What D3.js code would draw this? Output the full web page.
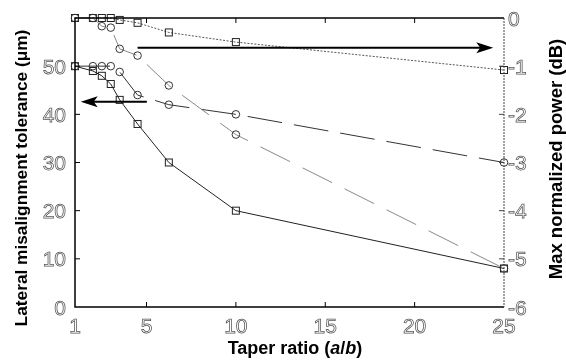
<!DOCTYPE html>
<html>
<head>
<meta charset="utf-8">
<script src="https://cdn.jsdelivr.net/npm/d3@7/dist/d3.min.js"></script>
<style>
  body { margin: 0; background: #fff; }
  svg { display: block; font-family: "Liberation Sans", Arial, sans-serif; will-change: transform; }
  .tick-label { fill: #fff; stroke: #555; stroke-width: 0.75; font-size: 21px; }
  .title { font-weight: bold; fill: #000; }
</style>
</head>
<body>
<svg id="plot" width="566" height="362"></svg>
<script>

// Data.

const taper = [1, 2, 2.5, 3, 3.5, 4.5, 6.25, 10, 25];

// Left axis: lateral misalignment tolerance (um).
const tolSolid  = [50, 49, 48, 46.3, 43, 38, 30, 20, 8];
const tolDashed = [50, 50, 50, 50, 48.8, 44, 42, 40, 30];

// Right axis: max normalized power (dB).
const powDotted  = [0, 0, 0, 0, -0.04, -0.1, -0.3, -0.5, -1.08];
const powDashDot = [0, 0, -0.17, -0.2, -0.64, -0.78, -1.4, -2.42, -5.2];

const xTicks = [1, 5, 10, 15, 20, 25];
const yLeftTicks = [0, 10, 20, 30, 40, 50];
const yRightTicks = [0, -1, -2, -3, -4, -5, -6];

// Arrows: [from x, to x, value, axis].
const arrows = [
    { from: 5.02, to: 1.32, value: 42.6, axis: "left" },
    { from: 4.5, to: 24.4, value: -0.62, axis: "right" },
];

// Plot box.

const margin = { T: 18, B: 307, L: 75, R: 504 };

const svg = d3.select("#plot");

const xScale = d3.scaleLinear().domain([1, 25]).range([margin.L, margin.R]);
const yLeft = d3.scaleLinear().domain([0, 60]).range([margin.B, margin.T]);
const yRight = d3.scaleLinear().domain([-6, 0]).range([margin.B, margin.T]);

//----------------------------------------------------------------------------//
//                                   SERIES                                   //
//----------------------------------------------------------------------------//

const series = [
    { vals: tolSolid,   y: yLeft,  stroke: "#222", dash: null,    marker: "square" },
    { vals: tolDashed,  y: yLeft,  stroke: "#333", dash: "35,12", marker: "circle" },
    { vals: powDotted,  y: yRight, stroke: "#555", dash: "2,1.5", marker: "square" },
    { vals: powDashDot, y: yRight, stroke: "#888", dash: "33,14", marker: "circle" },
];

series.forEach(s => {
    const pts = taper.map((t, i) => [t, s.vals[i]]);
    const line = d3.line().x(d => xScale(d[0])).y(d => s.y(d[1]));

    svg.append("path")
        .attr("d", line(pts))
        .attr("fill", "none")
        .attr("stroke", s.stroke)
        .attr("stroke-width", 1)
        .attr("stroke-dasharray", s.dash);

    const g = svg.append("g");
    if (s.marker === "square") {
        g.selectAll("rect")
            .data(pts)
            .join("rect")
                .attr("x", d => xScale(d[0]) - 3.5)
                .attr("y", d => s.y(d[1]) - 3.5)
                .attr("width", 7)
                .attr("height", 7)
                .attr("fill", "none")
                .attr("stroke", "#222")
                .attr("stroke-width", 1);
    } else {
        g.selectAll("circle")
            .data(pts)
            .join("circle")
                .attr("cx", d => xScale(d[0]))
                .attr("cy", d => s.y(d[1]))
                .attr("r", 3.8)
                .attr("fill", "none")
                .attr("stroke", "#333")
                .attr("stroke-width", 1);
    }
});

// Arrows.

arrows.forEach(a => {
    const y = (a.axis === "left" ? yLeft : yRight)(a.value);
    const x0 = xScale(a.from), x1 = xScale(a.to);
    const dir = x1 > x0 ? 1 : -1;
    svg.append("line")
        .attr("x1", x0).attr("x2", x1 - dir * 10)
        .attr("y1", y).attr("y2", y)
        .attr("stroke", "#000")
        .attr("stroke-width", 2);
    svg.append("path")
        .attr("d", `M${x1},${y} L${x1 - dir * 17},${y - 5.5} L${x1 - dir * 13},${y} L${x1 - dir * 17},${y + 5.5} Z`)
        .attr("fill", "#000");
});

//----------------------------------------------------------------------------//
//                                    AXES                                    //
//----------------------------------------------------------------------------//

// Box.
svg.append("path")
    .attr("d", `M${margin.R},${margin.T} H${margin.L} V${margin.B} H${margin.R}`)
    .attr("fill", "none")
    .attr("stroke", "#000")
    .attr("stroke-width", 1.5);
svg.append("line")
    .attr("x1", margin.R).attr("x2", margin.R)
    .attr("y1", margin.T).attr("y2", margin.B)
    .attr("stroke", "#444")
    .attr("stroke-width", 1)
    .attr("stroke-dasharray", "2,1");

// Inward ticks.
const tickLen = 5;
xTicks.slice(1, -1).forEach(t => {
    svg.append("line")
        .attr("x1", xScale(t)).attr("x2", xScale(t))
        .attr("y1", margin.B).attr("y2", margin.B - tickLen)
        .attr("stroke", "#000");
    svg.append("line")
        .attr("x1", xScale(t)).attr("x2", xScale(t))
        .attr("y1", margin.T).attr("y2", margin.T + tickLen)
        .attr("stroke", "#000");
});
yLeftTicks.slice(1).forEach(t => {
    svg.append("line")
        .attr("x1", margin.L).attr("x2", margin.L + tickLen)
        .attr("y1", yLeft(t)).attr("y2", yLeft(t))
        .attr("stroke", "#000");
});
yRightTicks.slice(1, -1).forEach(t => {
    svg.append("line")
        .attr("x1", margin.R).attr("x2", margin.R - tickLen)
        .attr("y1", yRight(t)).attr("y2", yRight(t))
        .attr("stroke", "#444");
});

// Tick labels.
svg.selectAll(".xl")
    .data(xTicks)
    .join("text")
        .attr("class", "tick-label")
        .attr("x", d => xScale(d))
        .attr("y", 333)
        .attr("text-anchor", "middle")
        .text(d => d);

svg.selectAll(".yl")
    .data(yLeftTicks)
    .join("text")
        .attr("class", "tick-label")
        .attr("x", 66)
        .attr("y", d => yLeft(d))
        .attr("dy", "0.36em")
        .attr("text-anchor", "end")
        .text(d => d);

svg.selectAll(".yr")
    .data(yRightTicks)
    .join("text")
        .attr("class", "tick-label")
        .attr("x", 508)
        .attr("y", d => yRight(d))
        .attr("dy", "0.36em")
        .attr("text-anchor", "start")
        .text(d => d);

// Axis titles.
const xTitle = svg.append("text")
    .attr("class", "title")
    .attr("font-size", 18)
    .attr("x", 295)
    .attr("y", 354)
    .attr("text-anchor", "middle");
xTitle.append("tspan").text("Taper ratio (");
xTitle.append("tspan").attr("font-style", "italic").text("a");
xTitle.append("tspan").text("/");
xTitle.append("tspan").attr("font-style", "italic").text("b");
xTitle.append("tspan").text(")");

svg.append("text")
    .attr("class", "title")
    .attr("font-size", 17.3)
    .attr("transform", `translate(27, 178) rotate(-90)`)
    .attr("text-anchor", "middle")
    .text("Lateral misalignment tolerance (μm)");

svg.append("text")
    .attr("class", "title")
    .attr("font-size", 18.5)
    .attr("transform", `translate(562, 159) rotate(-90)`)
    .attr("text-anchor", "middle")
    .text("Max normalized power (dB)");

</script>
</body>
</html>
